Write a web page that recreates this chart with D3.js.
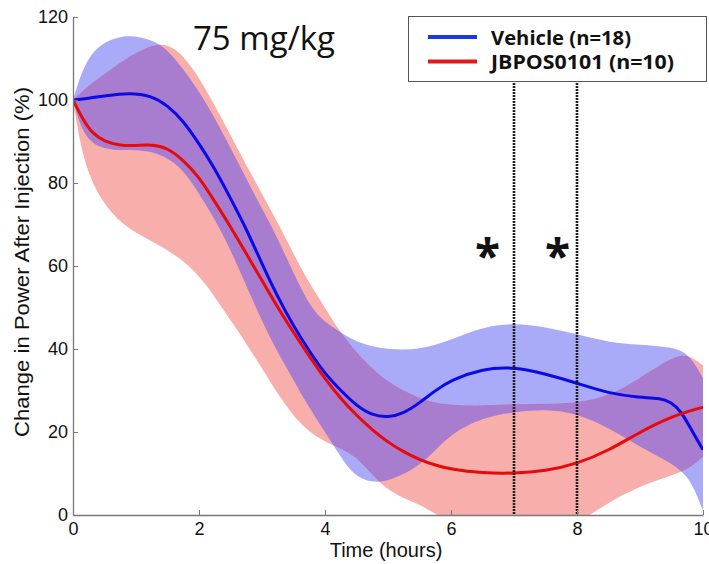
<!DOCTYPE html>
<html><head><meta charset="utf-8">
<script src="https://cdn.jsdelivr.net/npm/d3@7"></script>
<style>body{margin:0;background:#fff}svg{display:block}</style>
</head><body>
<svg id="chart" width="709" height="564"></svg>
<script>
// ---- data: [time (hours), value (%)] ----
const blueMean = [[0,100],[0.25,100.4],[0.5,101],[0.9,101.8],[1.25,101],[1.5,98.7],[1.75,95],[2.0,89.5],[2.25,83.5],[2.5,76.3],[2.75,69],[3.0,60.5],[3.25,52.5],[3.5,45.5],[3.75,39.5],[4.0,34],[4.25,30],[4.5,26.3],[4.75,24],[5.0,23.5],[5.25,24.5],[5.5,27],[5.75,30],[6.0,32.5],[6.5,35.3],[7.0,35.7],[7.5,34],[8.0,31.8],[8.5,29.3],[9.0,28.3],[9.3,28.2],[9.5,27.2],[9.65,25],[9.8,21],[10,15.7]];
const blueUpper = [[0,100],[0.1,105],[0.22,109.5],[0.43,113.7],[0.86,116],[1.25,114.5],[1.5,112.5],[2.0,102.5],[2.44,90.4],[2.92,75.9],[3.13,70.4],[3.45,60],[3.76,50.1],[4.0,46.5],[4.2,44.5],[4.5,41.5],[5.0,39.8],[5.5,39.8],[6.0,42.2],[6.5,45.3],[7.0,46.3],[7.5,45.3],[8.0,43.6],[8.5,41.6],[9.0,41],[9.5,40.5],[9.75,39],[9.9,35.7],[10,33]];
const blueLower = [[0,100],[0.16,91.5],[0.4,88.5],[0.75,87.8],[1.1,88],[1.4,87],[1.75,83.5],[2.06,76],[2.38,68],[2.7,57],[2.97,47.7],[3.2,40.5],[3.44,34.2],[3.7,27],[4.0,20],[4.25,14],[4.45,9.6],[4.75,7.7],[5.0,8.3],[5.25,9.8],[5.5,12],[5.75,15.5],[6.0,19.5],[6.5,23.5],[7.0,24.8],[7.5,25.5],[8.0,24.5],[8.5,21],[9.0,16.4],[9.5,12.5],[9.75,9.5],[9.9,5],[10,1]];
const redMean = [[0,100],[0.15,95.5],[0.3,92],[0.5,90],[0.75,89],[1.0,89],[1.25,89.3],[1.5,88.5],[1.75,85.5],[2.0,81.5],[2.25,75.5],[2.5,69.5],[2.75,63],[3.0,56.5],[3.25,50],[3.5,44],[3.75,38.2],[4.0,32.8],[4.25,28],[4.5,24],[4.75,20.5],[5.0,17.5],[5.25,15.2],[5.5,13.3],[5.75,12],[6.0,11],[6.5,10.1],[7.0,10],[7.5,10.6],[8.0,12.3],[8.5,15.5],[9.0,20],[9.5,23.8],[10,26]];
const redUpper = [[0,100],[0.2,103],[0.43,105.5],[0.7,108.5],[0.95,111],[1.27,113.5],[1.6,113.5],[2.0,106],[2.54,90.4],[2.85,81.5],[3.16,73],[3.4,66],[3.7,57],[4.0,50],[4.19,45],[4.6,37.3],[4.92,33],[5.14,30.8],[5.46,28.4],[5.75,27],[6.0,26.5],[6.5,26.3],[7.0,26.8],[7.5,26.8],[8.0,27],[8.5,28.6],[9.0,33],[9.5,38],[9.75,39],[10,36]];
const redLower = [[0,100],[0.16,85],[0.43,76],[0.79,69.5],[1.32,65.5],[1.75,61.5],[2.1,56],[2.38,49.5],[2.75,41.5],[3.17,31],[3.6,21.5],[4.0,17.5],[4.45,14.8],[4.7,10.5],[4.95,6.5],[5.25,4],[5.5,2.5],[5.75,0.3],[6.0,-2],[6.5,-5],[7.0,-6.5],[7.5,-5],[8.0,-2],[8.25,0.5],[8.75,5.3],[9.25,8.3],[9.7,10.6],[9.85,12],[10,14]];
const xTicks = [0,2,4,6,8,10];
const yTicks = [0,20,40,60,80,100,120];
const markerTimes = [7,8];
const starTimes = [6.58,7.69];
const starValue = 64;
const legendLabels = ["Vehicle (n=18)","JBPOS0101 (n=10)"];
const doseLabel = "75 mg/kg";

// ---- drawing ----
const svg = d3.select("#chart");
const x = d3.scaleLinear().domain([0,10]).range([73,703]);
const y = d3.scaleLinear().domain([0,120]).range([515,17]);
const curve = d3.curveBasis;
const line = d3.line().x(d=>x(d[0])).y(d=>y(d[1])).curve(curve);
function band(up, lo){
  const a = line(up);
  const b = line(lo.slice().reverse());
  return a + "L" + b.slice(1) + "Z";
}
const defs = svg.append("defs");
defs.append("clipPath").attr("id","plotClip").append("rect")
  .attr("x",x(0)).attr("y",y(120)).attr("width",x(10)-x(0)).attr("height",y(0)-y(120));
defs.append("clipPath").attr("id","blueClip").append("path").attr("d",band(blueUpper,blueLower));

const g = svg.append("g").attr("clip-path","url(#plotClip)");
g.append("path").attr("d",band(blueUpper,blueLower)).attr("fill","#aaabf8");
g.append("path").attr("d",band(redUpper,redLower)).attr("fill","#f8aeab");
g.append("g").attr("clip-path","url(#blueClip)")
  .append("path").attr("d",band(redUpper,redLower)).attr("fill","#a87cce");

// marker lines
svg.selectAll("line.mark").data(markerTimes).join("line").attr("class","mark")
  .attr("x1",d=>x(d)).attr("x2",d=>x(d)).attr("y1",y(120)).attr("y2",y(0))
  .attr("stroke","#1e1e1e").attr("stroke-width",2.6).attr("stroke-dasharray","2,1");

g.append("path").attr("d",line(blueMean)).attr("fill","none").attr("stroke","#0a0ae6").attr("stroke-width",3);
g.append("path").attr("d",line(redMean)).attr("fill","none").attr("stroke","#e60a0a").attr("stroke-width",3);

// axes
const ax = svg.append("g").attr("transform",`translate(0,${y(0)})`)
  .call(d3.axisBottom(x).tickValues(xTicks).tickSizeInner(-5).tickSizeOuter(0).tickPadding(7).tickFormat(d3.format("d")));
const ay = svg.append("g").attr("transform",`translate(${x(0)},0)`)
  .call(d3.axisLeft(y).tickValues(yTicks).tickSizeInner(-5).tickSizeOuter(0).tickPadding(5).tickFormat(d3.format("d")));
[ax,ay].forEach(a=>{
  a.select(".domain").attr("stroke","#777").attr("stroke-width",1.3);
  a.selectAll(".tick line").attr("stroke","#777");
  a.selectAll(".tick text").attr("fill","#111").style("font-family","'Liberation Sans',Arial,sans-serif").style("font-size","18px");
});

svg.append("text").attr("x",386).attr("y",557).attr("text-anchor","middle")
  .style("font-family","'Liberation Sans',Arial,sans-serif").style("font-size","20px").attr("fill","#111")
  .text("Time (hours)");
svg.append("text").attr("transform","translate(29,262) rotate(-90)").attr("text-anchor","middle")
  .style("font-family","'Liberation Sans',Arial,sans-serif").style("font-size","20px").attr("fill","#111")
  .attr("textLength",350).attr("lengthAdjust","spacingAndGlyphs")
  .text("Change in Power After Injection (%)");

// stars
svg.selectAll("text.star").data(starTimes).join("text").attr("class","star")
  .attr("x",d=>x(d)).attr("y",y(starValue)+24).attr("text-anchor","middle")
  .style("font-family","'Open Sans',sans-serif").style("font-weight","bold").style("font-size","46px").attr("fill","#111")
  .text("*");

// dose label
svg.append("text").attr("x",193).attr("y",50)
  .style("font-family","'Open Sans',sans-serif").style("font-size","32px").attr("fill","#111")
  .attr("textLength",142).attr("lengthAdjust","spacingAndGlyphs")
  .text(doseLabel);

// legend
const lg = svg.append("g");
lg.append("rect").attr("x",408.5).attr("y",16.5).attr("width",298).attr("height",65)
  .attr("fill","#fff").attr("stroke","#555").attr("stroke-width",1);
const legColors = ["#1a3ae0","#e01a1a"];
const legWidths = [140,183];
legendLabels.forEach((t,i)=>{
  const yy = 37 + i*24.5;
  lg.append("line").attr("x1",428).attr("x2",477).attr("y1",yy).attr("y2",yy)
    .attr("stroke",legColors[i]).attr("stroke-width",4);
  lg.append("text").attr("x",491).attr("y",yy+7.5)
    .style("font-family","'Open Sans',sans-serif").style("font-weight","bold").style("font-size","19px").attr("fill","#111")
    .attr("textLength",legWidths[i]).attr("lengthAdjust","spacingAndGlyphs")
    .text(t);
});
</script>
</body></html>
